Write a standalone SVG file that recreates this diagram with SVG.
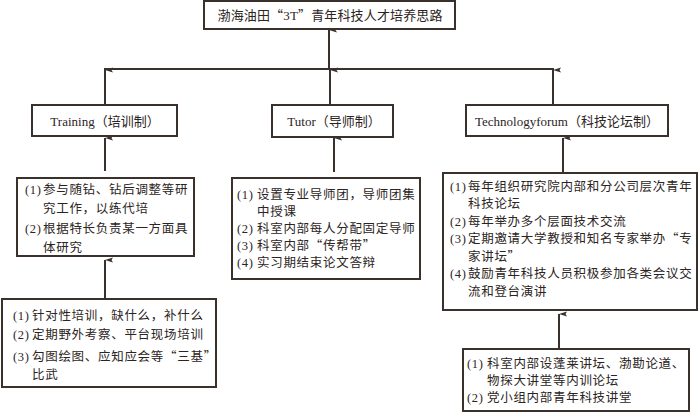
<svg xmlns="http://www.w3.org/2000/svg" width="700" height="414" viewBox="0 0 700 414">
<defs>
<style>
.box{fill:#fff;stroke:#3a302c;stroke-width:2}
.ln{stroke:#3a302c;stroke-width:2;fill:none}
.t{font-family:"Liberation Serif","Noto Sans CJK SC",serif;font-size:12.5px;fill:#2b2422;letter-spacing:0.7px}
.lb{font-family:"Liberation Serif","Noto Sans CJK SC",serif;font-size:13px;fill:#2b2422;text-anchor:middle}
.q{font-family:"Noto Sans CJK SC",sans-serif;font-feature-settings:"fwid"}
</style>
<marker id="ah" markerUnits="userSpaceOnUse" markerWidth="6" markerHeight="9" refX="3" refY="0" orient="auto-start-reverse" viewBox="0 -1 6 9">
<path d="M3,0 L5.5,8 L3,6.5 L0.5,8 Z" fill="#3a302c"/>
</marker>
</defs>
<rect width="700" height="414" fill="#fff"/>
<g id="connectors">
<line class="ln" x1="329" y1="69" x2="329" y2="30" marker-end="url(#ah)"/>
<line class="ln" x1="104" y1="69" x2="554" y2="69"/>
<line class="ln" x1="105" y1="105" x2="105" y2="70" marker-end="url(#ah)"/>
<line class="ln" x1="330" y1="105" x2="330" y2="70" marker-end="url(#ah)"/>
<line class="ln" x1="553" y1="105" x2="553" y2="70" marker-end="url(#ah)"/>
<line class="ln" x1="105" y1="171" x2="105" y2="138" marker-end="url(#ah)"/>
<line class="ln" x1="334" y1="172" x2="334" y2="138" marker-end="url(#ah)"/>
<line class="ln" x1="563" y1="173" x2="563" y2="138" marker-end="url(#ah)"/>
<line class="ln" x1="105" y1="299" x2="105" y2="260" marker-end="url(#ah)"/>
<line class="ln" x1="559" y1="349" x2="559" y2="314" marker-end="url(#ah)"/>
</g>
<g id="root">
<rect class="box" x="204" y="1" width="251" height="28"/>
<text class="lb" x="330" y="20" font-size="14" textLength="225" lengthAdjust="spacing">渤海油田<tspan class="q">“</tspan>3T<tspan class="q">”</tspan>青年科技人才培养思路</text>
</g>
<g id="training">
<rect class="box" x="32" y="105" width="145" height="31"/>
<text class="lb" x="105" y="126">Training（培训制）</text>
</g>
<g id="tutor">
<rect class="box" x="272" y="105" width="121" height="32"/>
<text class="lb" x="334" y="126">Tutor（导师制）</text>
</g>
<g id="techforum">
<rect class="box" x="466" y="105" width="202" height="31"/>
<text class="lb" x="567" y="126">Technologyforum（科技论坛制）</text>
</g>
<g id="training-detail">
<rect class="box" x="17" y="178" width="177" height="78"/>
<text class="t" x="25" y="193.5">(1)<tspan x="43">参与随钻、钻后调整等研</tspan></text>
<text class="t" x="43" y="212.5">究工作，以练代培</text>
<text class="t" x="25" y="232.5">(2)<tspan x="43">根据特长负责某一方面具</tspan></text>
<text class="t" x="43" y="251.5">体研究</text>
</g>
<g id="training-basic">
<rect class="box" x="2" y="299" width="214" height="88"/>
<text class="t" x="13" y="319.5">(1)<tspan x="32">针对性培训，缺什么，补什么</tspan></text>
<text class="t" x="13" y="338.5">(2)<tspan x="32">定期野外考察、平台现场培训</tspan></text>
<text class="t" x="13" y="360.5">(3)<tspan x="32">勾图绘图、应知应会等<tspan class="q">“</tspan>三基<tspan class="q">”</tspan></tspan></text>
<text class="t" x="32" y="378.5">比武</text>
</g>
<g id="tutor-detail">
<rect class="box" x="232" y="178" width="188" height="101"/>
<text class="t" x="237" y="198.5">(1)<tspan x="257">设置专业导师团，导师团集</tspan></text>
<text class="t" x="257" y="215.5">中授课</text>
<text class="t" x="237" y="232.5">(2)<tspan x="257">科室内部每人分配固定导师</tspan></text>
<text class="t" x="237" y="249.5">(3)<tspan x="257">科室内部<tspan class="q">“</tspan>传帮带<tspan class="q">”</tspan></tspan></text>
<text class="t" x="237" y="266.5">(4)<tspan x="257">实习期结束论文答辩</tspan></text>
</g>
<g id="tech-detail">
<rect class="box" x="443" y="173" width="254" height="137"/>
<text class="t" x="450" y="190.5">(1)<tspan x="468">每年组织研究院内部和分公司层次青年</tspan></text>
<text class="t" x="468" y="208">科技论坛</text>
<text class="t" x="450" y="225.5">(2)<tspan x="468">每年举办多个层面技术交流</tspan></text>
<text class="t" x="450" y="243">(3)<tspan x="468">定期邀请大学教授和知名专家举办<tspan class="q">“</tspan>专</tspan></text>
<text class="t" x="468" y="260.5">家讲坛<tspan class="q">”</tspan></text>
<text class="t" x="450" y="278">(4)<tspan x="468">鼓励青年科技人员积极参加各类会议交</tspan></text>
<text class="t" x="468" y="295.5">流和登台演讲</text>
</g>
<g id="tech-internal">
<rect class="box" x="463" y="349" width="226" height="62"/>
<text class="t" x="467" y="367.5">(1)<tspan x="487">科室内部设蓬莱讲坛、渤勘论道、</tspan></text>
<text class="t" x="487" y="384.5">物探大讲堂等内训论坛</text>
<text class="t" x="467" y="401.5">(2)<tspan x="487">党小组内部青年科技讲堂</tspan></text>
</g>
</svg>
